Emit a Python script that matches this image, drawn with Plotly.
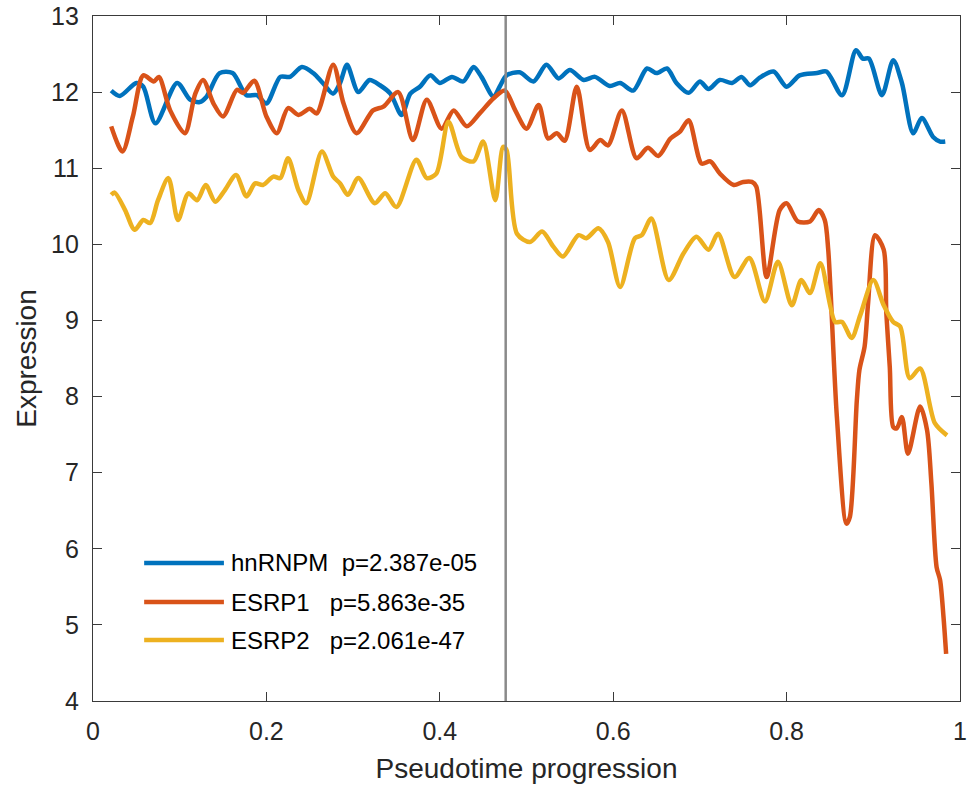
import plotly.graph_objects as go

# ---------------- data ----------------
hn_x = [0.021, 0.031, 0.050, 0.058, 0.072, 0.097, 0.112, 0.123, 0.131, 0.146, 0.161, 0.177, 0.189, 0.200,
        0.216, 0.227, 0.241, 0.254, 0.265, 0.277, 0.285, 0.293, 0.306, 0.319, 0.331, 0.343, 0.356, 0.366,
        0.377, 0.389, 0.400, 0.414, 0.427, 0.439, 0.448, 0.462, 0.469, 0.477, 0.492, 0.508, 0.523, 0.537,
        0.550, 0.566, 0.579, 0.596, 0.608, 0.623, 0.639, 0.650, 0.662, 0.673, 0.687, 0.700, 0.710, 0.723,
        0.737, 0.748, 0.758, 0.769, 0.785, 0.800, 0.815, 0.835, 0.846, 0.864, 0.880, 0.888, 0.895, 0.910,
        0.923, 0.933, 0.946, 0.956, 0.969, 0.977, 0.983]
hn_y = [12.02, 11.95, 12.12, 12.07, 11.59, 12.12, 11.90, 11.87, 11.94, 12.25, 12.25, 11.96, 11.96, 11.85,
        12.20, 12.20, 12.33, 12.25, 12.12, 11.98, 12.12, 12.36, 12.00, 12.16, 12.09, 11.98, 11.70, 11.98,
        12.07, 12.22, 12.12, 12.20, 12.14, 12.33, 12.20, 11.94, 12.07, 12.22, 12.26, 12.14, 12.36, 12.18,
        12.29, 12.16, 12.20, 12.08, 12.12, 12.02, 12.31, 12.25, 12.31, 12.12, 11.99, 12.14, 12.04, 12.16,
        12.12, 12.20, 12.09, 12.19, 12.27, 12.07, 12.22, 12.25, 12.27, 11.96, 12.55, 12.44, 12.44, 11.96,
        12.42, 12.12, 11.46, 11.66, 11.41, 11.35, 11.35]

e1_x = [0.021, 0.034, 0.046, 0.058, 0.070, 0.076, 0.089, 0.106, 0.118, 0.127, 0.139, 0.150, 0.166, 0.173,
        0.186, 0.200, 0.212, 0.225, 0.237, 0.250, 0.258, 0.277, 0.289, 0.304, 0.323, 0.335, 0.352, 0.369,
        0.385, 0.402, 0.416, 0.431, 0.446, 0.462, 0.475, 0.487, 0.500, 0.514, 0.525, 0.535, 0.544, 0.558,
        0.573, 0.585, 0.594, 0.610, 0.627, 0.640, 0.652, 0.666, 0.677, 0.687, 0.702, 0.712, 0.723, 0.739,
        0.750, 0.760, 0.765, 0.777, 0.792, 0.800, 0.813, 0.827, 0.837, 0.844, 0.848, 0.858, 0.869, 0.873,
        0.881, 0.884, 0.890, 0.894, 0.902, 0.912, 0.915, 0.919, 0.923, 0.927, 0.933, 0.940, 0.954, 0.962,
        0.967, 0.973, 0.977, 0.981, 0.984]
e1_y = [11.55, 11.22, 11.68, 12.22, 12.14, 12.20, 11.76, 11.46, 11.98, 12.16, 11.85, 11.68, 12.03, 11.99,
        12.15, 11.68, 11.46, 11.79, 11.70, 11.78, 11.72, 12.36, 11.85, 11.46, 11.76, 11.81, 12.00, 11.37,
        11.90, 11.52, 11.76, 11.55, 11.72, 11.92, 12.02, 11.76, 11.52, 11.83, 11.39, 11.46, 11.36, 12.07,
        11.24, 11.37, 11.30, 11.76, 11.13, 11.27, 11.16, 11.39, 11.48, 11.63, 11.06, 11.09, 10.93, 10.78,
        10.82, 10.82, 10.76, 9.57, 10.45, 10.54, 10.30, 10.30, 10.45, 10.32, 9.93, 7.73, 6.33, 6.42,
        7.95, 8.35, 8.66, 9.23, 10.12, 9.93, 9.10, 8.39, 7.60, 7.58, 7.73, 7.25, 7.87, 7.56,
        6.86, 5.76, 5.59, 5.10, 4.62]

e2_x = [0.021, 0.025, 0.037, 0.048, 0.058, 0.066, 0.075, 0.087, 0.098, 0.110, 0.120, 0.130, 0.141, 0.152,
        0.165, 0.177, 0.187, 0.196, 0.208, 0.216, 0.225, 0.237, 0.246, 0.264, 0.277, 0.285, 0.294, 0.306,
        0.325, 0.337, 0.350, 0.373, 0.385, 0.396, 0.410, 0.425, 0.439, 0.450, 0.464, 0.473, 0.477, 0.489,
        0.504, 0.518, 0.531, 0.542, 0.560, 0.569, 0.583, 0.594, 0.608, 0.625, 0.633, 0.644, 0.664, 0.681,
        0.696, 0.710, 0.721, 0.740, 0.757, 0.775, 0.790, 0.806, 0.817, 0.827, 0.839, 0.856, 0.864, 0.875,
        0.885, 0.900, 0.912, 0.923, 0.931, 0.942, 0.954, 0.971, 0.985]
e2_y = [10.65, 10.68, 10.45, 10.19, 10.32, 10.28, 10.58, 10.87, 10.32, 10.67, 10.58, 10.78, 10.56, 10.71,
        10.91, 10.63, 10.80, 10.78, 10.89, 10.87, 11.13, 10.71, 10.54, 11.22, 10.89, 10.80, 10.65, 10.87,
        10.54, 10.67, 10.49, 11.11, 10.87, 10.93, 11.61, 11.15, 11.09, 11.35, 10.58, 11.28, 11.24, 10.14,
        10.03, 10.17, 9.97, 9.84, 10.12, 10.08, 10.21, 10.03, 9.44, 10.08, 10.12, 10.34, 9.53, 9.88,
        10.10, 9.93, 10.14, 9.57, 9.82, 9.25, 9.77, 9.20, 9.53, 9.36, 9.75, 8.98, 8.98, 8.77,
        9.07, 9.53, 9.20, 8.98, 8.92, 8.24, 8.37, 7.65, 7.49]

series_names = ["hnRNPM", "ESRP1", "ESRP2"]
p_values = ["2.387e-05", "5.863e-35", "2.061e-47"]
name_gaps = [2, 3, 3]
colors = ["#0072BD", "#D95319", "#EDB120"]
split_x = 0.476

x_ticks = [0, 0.2, 0.4, 0.6, 0.8, 1]
x_tick_text = ["0", "0.2", "0.4", "0.6", "0.8", "1"]
y_ticks = [4, 5, 6, 7, 8, 9, 10, 11, 12, 13]

FONT = "Liberation Sans, Arial, Helvetica, sans-serif"

fig = go.Figure()
for name, xs, ys, c in zip(series_names, [hn_x, e1_x, e2_x], [hn_y, e1_y, e2_y], colors):
    fig.add_trace(go.Scatter(x=xs, y=ys, mode="lines", name=name,
                             line=dict(color=c, width=4.5, shape="spline", smoothing=0.8),
                             showlegend=False))

fig.add_vline(x=split_x, line_color="#8a8a8a", line_width=2.5, layer="above")

# custom legend (MATLAB style, long line samples)
leg_y = [0.2015, 0.1445, 0.089]
for name, pv, gap, c, ly in zip(series_names, p_values, name_gaps, colors, leg_y):
    fig.add_shape(type="line", xref="paper", yref="paper", x0=0.059, x1=0.151, y0=ly, y1=ly,
                  line=dict(color=c, width=4.5))
    fig.add_annotation(xref="paper", yref="paper", x=0.157, y=ly, xanchor="left", yanchor="middle",
                       text=name + "\u00a0" * gap + "p=" + pv, showarrow=False,
                       font=dict(family=FONT, size=24, color="#000000"))

axis_common = dict(showline=True, linecolor="#3a3a3a", linewidth=1.2, mirror="ticks",
                   ticks="inside", ticklen=9, tickwidth=1.2, tickcolor="#3a3a3a",
                   showgrid=False, zeroline=False,
                   tickfont=dict(family=FONT, size=25, color="#262626"))

fig.update_xaxes(range=[0, 1], tickvals=x_ticks, ticktext=x_tick_text, ticklabelstandoff=8,
                 title=dict(text="Pseudotime progression", standoff=14,
                            font=dict(family=FONT, size=28, color="#262626")),
                 **axis_common)
fig.update_yaxes(range=[4, 13], tickvals=y_ticks, ticklabelstandoff=8,
                 title=dict(text="Expression", standoff=6,
                            font=dict(family=FONT, size=28, color="#262626")),
                 **axis_common)

fig.update_layout(width=971, height=786, margin=dict(l=93, r=11, t=16, b=85, autoexpand=False),
                  plot_bgcolor="white", paper_bgcolor="white", font=dict(family=FONT))

fig.write_html("out.html")
